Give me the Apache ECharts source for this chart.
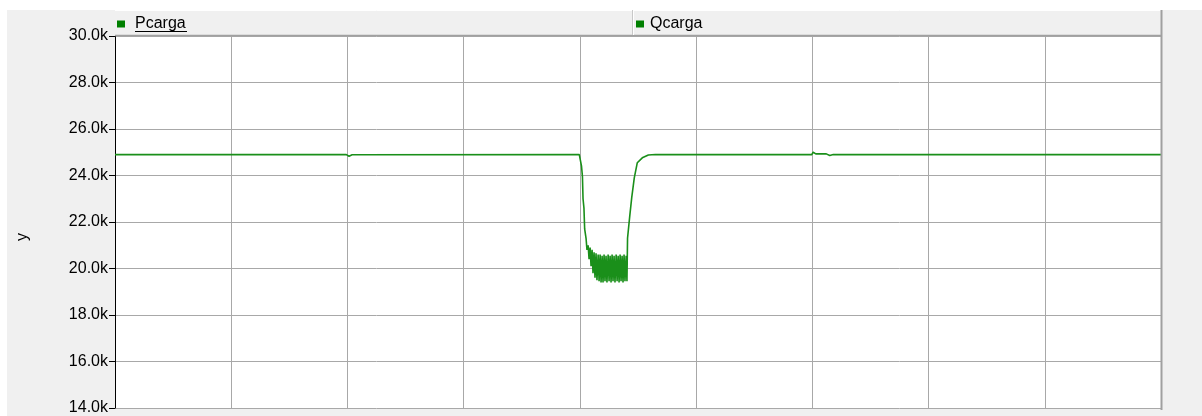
<!DOCTYPE html>
<html>
<head>
<meta charset="utf-8">
<script src="https://cdn.jsdelivr.net/npm/echarts@6/dist/echarts.min.js"></script>
<style>
html,body{margin:0;padding:0;background:#fff;}
#bg{position:absolute;left:7px;top:10px;width:1195px;height:406px;background:#f0f0f0;}
#chart{position:absolute;left:0;top:0;width:1202px;height:416px;}
</style>
</head>
<body>
<div id="bg"></div>
<div id="chart"></div>
<script>
// ---- data ----
const seriesNames = ['Pcarga', 'Qcarga'];
const yTicks = [14000, 16000, 18000, 20000, 22000, 24000, 26000, 28000, 30000];
const pTime = [
  0, 1.99, 2.014, 2.04, 3.995, 4.0, 4.014, 4.022, 4.027, 4.035, 4.041,
  4.053, 4.061, 4.071, 4.079, 4.088, 4.096, 4.105, 4.113, 4.122, 4.130,
  4.139, 4.147, 4.157, 4.165, 4.174, 4.182, 4.191, 4.199, 4.208, 4.216,
  4.225, 4.233, 4.243, 4.251, 4.260, 4.268, 4.277, 4.285, 4.294, 4.302,
  4.312, 4.320, 4.329, 4.337, 4.346, 4.354, 4.363, 4.371, 4.380, 4.388,
  4.398, 4.405,
  4.410, 4.429, 4.446, 4.468, 4.494, 4.537, 4.589, 4.65,
  5.995, 6.007, 6.03, 6.12, 6.15, 6.18, 9.0
];
const pValues = [
  24900, 24900, 24830, 24890, 24900, 24980, 24400, 23950, 23000, 22600, 21700,
  21300, 20800, 21000, 20400, 20900, 20100, 20800, 19800, 20700, 19600,
  20650, 19500, 20600, 19450, 20600, 19400, 20550, 19400, 20600, 19450,
  20550, 19400, 20600, 19450, 20550, 19400, 20600, 19450, 20550, 19400,
  20600, 19450, 20550, 19400, 20600, 19450, 20550, 19400, 20600, 19450,
  20550, 19450,
  21300, 22250, 23050, 23900, 24550, 24760, 24880, 24900,
  24900, 25000, 24930, 24930, 24860, 24900, 24900
];
const qTime = [];
const qValues = [];
const xMin = 0, xMax = 9, xStep = 1;

const pData = pTime.map((t, i) => [t, pValues[i]]);
const qData = qTime.map((t, i) => [t, qValues[i]]);

const chart = echarts.init(document.getElementById('chart'));
const font = 'Liberation Sans, Arial, sans-serif';
chart.setOption({
  animation: false,
  backgroundColor: 'transparent',
  grid: {
    left: 115, right: 41, top: 36, bottom: 7,
    show: true, backgroundColor: '#ffffff', borderWidth: 0
  },
  legend: [
    {
      data: [seriesNames[0]], left: 117, top: 16, padding: 0, icon: 'rect',
      itemWidth: 8, itemHeight: 7, itemGap: 0,
      textStyle: { fontFamily: font, fontSize: 16, color: '#000', padding: [0, 0, 0, 5] },
      selectedMode: false
    },
    {
      data: [seriesNames[1]], left: 636, top: 16, padding: 0, icon: 'rect',
      itemWidth: 8, itemHeight: 7, itemGap: 0,
      textStyle: { fontFamily: font, fontSize: 16, color: '#000', padding: [0, 0, 0, 1] },
      selectedMode: false
    }
  ],
  xAxis: {
    type: 'value', min: xMin, max: xMax, interval: xStep,
    axisLine: { show: false }, axisTick: { show: false }, axisLabel: { show: false },
    splitLine: { show: true, lineStyle: { color: '#a8a8a8', width: 1 } }
  },
  yAxis: {
    type: 'value', min: yTicks[0], max: yTicks[yTicks.length - 1], interval: 2000,
    axisLine: { show: true, onZero: false, lineStyle: { color: '#000', width: 1 } },
    axisTick: { show: true, inside: false, length: 6, lineStyle: { color: '#000' } },
    axisLabel: {
      margin: 7, fontFamily: font, fontSize: 16, color: '#000',
      verticalAlign: 'middle', padding: [6, 0, 0, 0],
      formatter: v => (v / 1000).toFixed(1) + 'k'
    },
    splitLine: { show: true, lineStyle: { color: '#a8a8a8', width: 1 } }
  },
  graphic: [
    { type: 'rect', shape: { x: 115, y: 10, width: 1046, height: 26 }, style: { fill: '#f0f0f0', stroke: null }, z: 1 },
    { type: 'line', shape: { x1: 115, y1: 10.5, x2: 1161, y2: 10.5 }, style: { stroke: '#ffffff', lineWidth: 1 }, z: 2 },
    { type: 'line', shape: { x1: 115, y1: 35.5, x2: 1161, y2: 35.5 }, style: { stroke: '#a0a0a0', lineWidth: 1.5 }, z: 2 },
    { type: 'line', shape: { x1: 632.5, y1: 10, x2: 632.5, y2: 35 }, style: { stroke: '#c8c8c8', lineWidth: 1 }, z: 2 },
    { type: 'line', shape: { x1: 633.5, y1: 10, x2: 633.5, y2: 35 }, style: { stroke: '#ffffff', lineWidth: 1 }, z: 2 },
    { type: 'line', shape: { x1: 1161.5, y1: 10, x2: 1161.5, y2: 410 }, style: { stroke: '#a0a0a0', lineWidth: 2 }, z: 20 },
    { type: 'line', shape: { x1: 135, y1: 31.5, x2: 187, y2: 31.5 }, style: { stroke: '#000', lineWidth: 1 }, z: 20 },
    {
      type: 'text', x: 23, y: 237, rotation: Math.PI / 2, z: 20,
      style: { text: 'y', fontFamily: font, fontSize: 16, fill: '#000', textAlign: 'center', textVerticalAlign: 'middle' }
    }
  ],
  series: [
    {
      name: seriesNames[0], type: 'line', data: pData, showSymbol: false,
      color: '#008000', z: 5,
      lineStyle: { color: '#1a8f1a', width: 1.6 }
    },
    {
      name: seriesNames[1], type: 'line', data: qData, showSymbol: false,
      color: '#008000',
      lineStyle: { color: '#008000', width: 1.5 }
    }
  ]
});
</script>
</body>
</html>
